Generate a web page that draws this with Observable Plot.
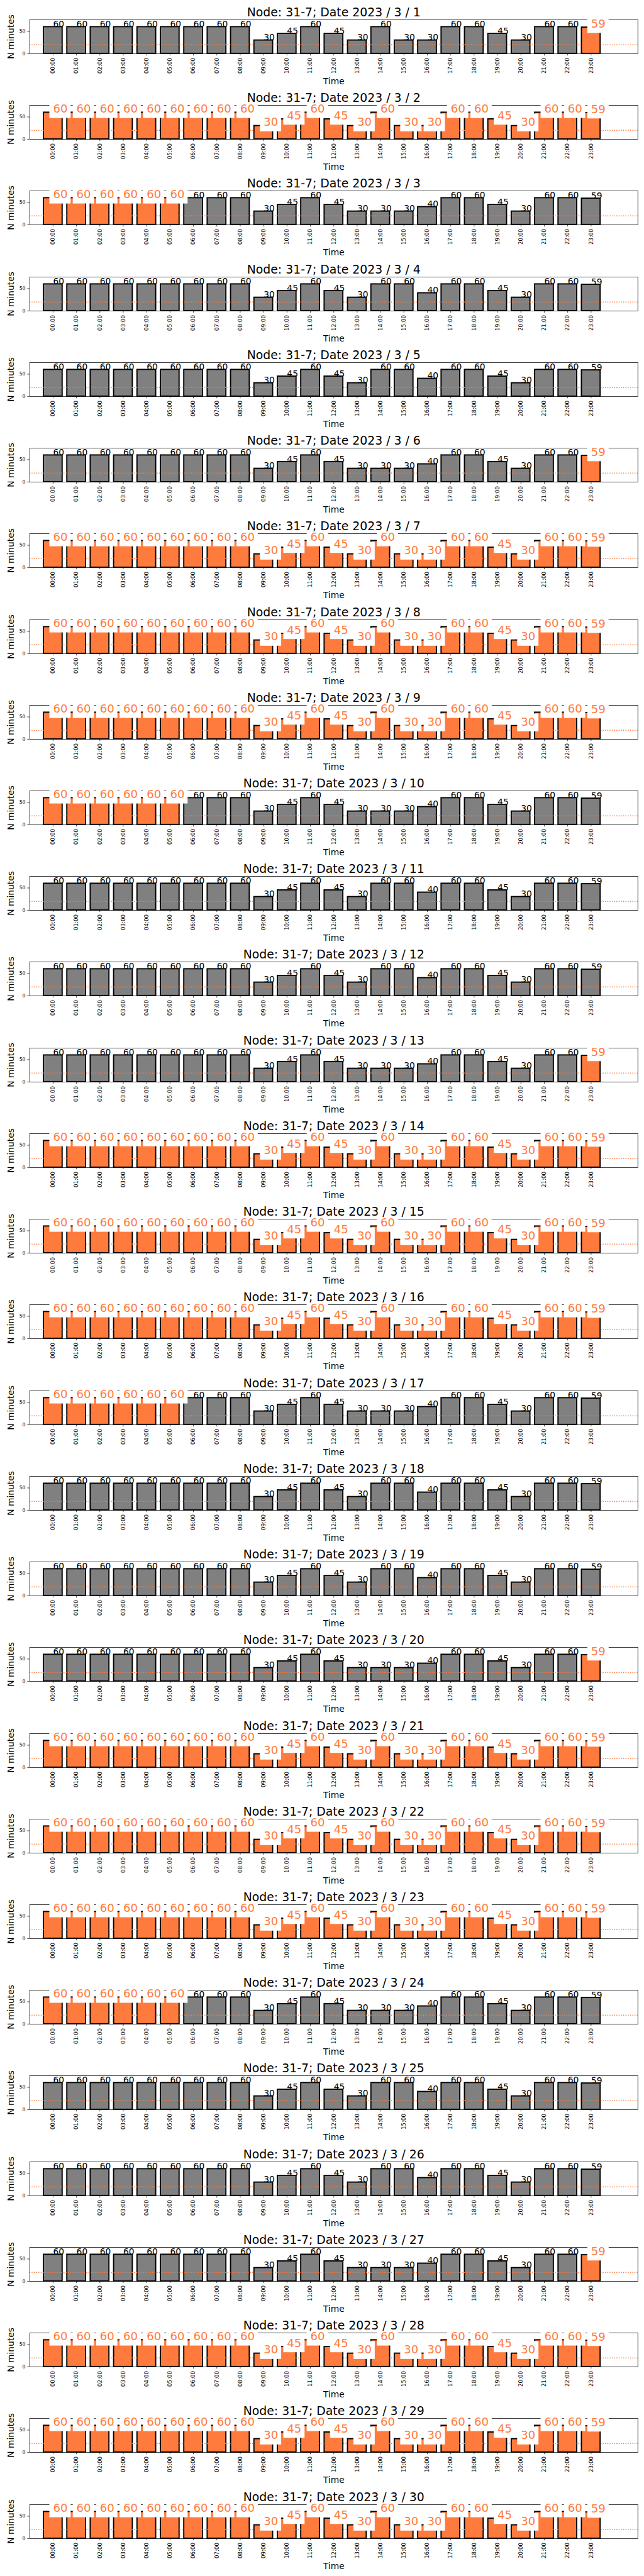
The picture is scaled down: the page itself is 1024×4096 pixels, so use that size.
<!DOCTYPE html>
<html>
<head>
<meta charset="utf-8">
<script src="https://cdn.jsdelivr.net/npm/d3@7"></script>
<script src="https://cdn.jsdelivr.net/npm/@observablehq/plot@0.6"></script>
<style>
  html, body { margin: 0; padding: 0; background: #fff; }
  #wrap { position: relative; width: 1024px; height: 4096px; background: #fff; }
  #wrap svg { position: absolute; left: 0; }
</style>
</head>
<body>
<div id="wrap"></div>
<script>
// ---------------- data ----------------
const node = "31-7";
const year = 2023, month = 3;
const days = d3.range(1, 31);

const hours = ["00:00","01:00","02:00","03:00","04:00","05:00","06:00","07:00","08:00","09:00","10:00","11:00",
               "12:00","13:00","14:00","15:00","16:00","17:00","18:00","19:00","20:00","21:00","22:00","23:00"];

// minutes per hour, 00:00–11:00 (same on every day)
const morningMinutes = [60, 60, 60, 60, 60, 60, 60, 60, 60, 30, 45, 60];
// minutes per hour, 12:00–23:00 (three day profiles)
const afternoonA = [45, 30, 60, 30, 30, 60, 60, 45, 30, 60, 60, 59];
const afternoonB = [45, 30, 30, 30, 40, 60, 60, 45, 30, 60, 60, 59];
const afternoonC = [45, 30, 60, 60, 40, 60, 60, 45, 30, 60, 60, 59];

const dayProfile = ["A","A","B","C","C","B","A","A","A","B","C","C","B","A","A","A",
                    "B","C","C","B","A","A","A","B","C","C","B","A","A","A"];
// which hours are highlighted (orange) per day
const dayHighlight = ["last","all","early","none","none","last","all","all","all","early","none","none",
                      "last","all","all","all","early","none","none","last","all","all","all","early",
                      "none","none","last","all","all","all"];
const highlightHours = {
  none: [],
  last: [23],
  early: [0, 1, 2, 3, 4, 5],
  all: d3.range(24)
};
const threshold = 20;

// ---------------- styling ----------------
const S = 1024 / 1500;
const ORANGE = "#ff7b3d";
const GRAY = "#808080";
const PANEL = 199.55 * S;
const AX_TOP = 45.3 * S;
const AX_H = 79 * S;
const AX_L = 68.4 * S;
const AX_R = 1485 * S;
const FS_BIG = 26.5 * S;   // highlighted labels
const FS_LAB = 20.3 * S;   // normal labels / axis titles
const PAD = 0.3 * FS_BIG;
const boxLeft = PAD, boxRight = 1.272 * FS_BIG + PAD;
const boxTop = 0.76 * FS_BIG + PAD, boxBottom = 0.208 * FS_BIG + PAD;

const profiles = {A: afternoonA, B: afternoonB, C: afternoonC};
const wrap = document.getElementById("wrap");

days.forEach((day, k) => {
  const values = morningMinutes.concat(profiles[dayProfile[k]]);
  const hi = new Set(highlightHours[dayHighlight[k]]);
  const data = hours.map((h, i) => ({i, h, v: values[i], hi: hi.has(i)}));
  const norm = data.filter(d => !d.hi);
  const high = data.filter(d => d.hi);
  const title = `Node: ${node}; Date ${year} / ${month} / ${day}`;

  const chart = Plot.plot({
    width: 1024,
    height: PANEL,
    marginTop: AX_TOP,
    marginBottom: PANEL - AX_TOP - AX_H,
    marginLeft: AX_L,
    marginRight: 1024 - AX_R,
    x: {type: "linear", domain: [-1, 25]},
    y: {type: "linear", domain: [0, 76.2]},
    style: {fontFamily: "DejaVu Sans", background: "white", overflow: "visible", color: "black"},
    marks: [
      Plot.rect(norm, {x1: d => d.i - 0.4, x2: d => d.i + 0.4, y1: 0, y2: "v", inset: 0,
        fill: GRAY, stroke: "black", strokeWidth: 2.78 * S}),
      Plot.rect(high, {x1: d => d.i - 0.4, x2: d => d.i + 0.4, y1: 0, y2: "v", inset: 0,
        fill: ORANGE, stroke: "black", strokeWidth: 2.78 * S}),
      Plot.ruleY([threshold], {stroke: ORANGE, strokeWidth: 2 * S,
        strokeDasharray: `${2 * S},${3.3 * S}`}),
      Plot.frame({stroke: "black", strokeWidth: 1.1 * S}),
      Plot.axisY({ticks: [0, 50], tickSize: 4.9 * S, tickPadding: 4.9 * S, fontSize: 11.4 * S,
        label: null, strokeWidth: 1.1 * S}),
      Plot.axisX({ticks: d3.range(24), tickFormat: i => hours[i], tickRotate: -90,
        tickSize: 4.9 * S, tickPadding: 4.9 * S, fontSize: 12.7 * S, label: null, strokeWidth: 1.1 * S}),
      Plot.text(norm, {x: "i", y: "v", text: d => String(d.v), textAnchor: "start",
        lineAnchor: "bottom", fontSize: FS_LAB, fill: "black"}),
      Plot.rect(high, {x1: "i", x2: "i", y1: "v", y2: "v", fill: "white",
        insetLeft: -boxLeft, insetRight: -boxRight, insetTop: -boxTop, insetBottom: -boxBottom}),
      Plot.text(high, {x: "i", y: "v", text: d => String(d.v), textAnchor: "start",
        lineAnchor: "bottom", fontSize: FS_BIG, fill: ORANGE}),
      Plot.text([title], {frameAnchor: "top", textAnchor: "middle", lineAnchor: "bottom", dy: -8.3 * S,
        fontSize: 27.6 * S, text: d => d, fill: "black"}),
      Plot.text(["N minutes"], {frameAnchor: "left", textAnchor: "middle", rotate: -90, lineAnchor: "bottom",
        dx: -(68.4 - 31.6) * S, fontSize: FS_LAB, text: d => d, fill: "black"}),
      Plot.text(["Time"], {frameAnchor: "bottom", textAnchor: "middle", lineAnchor: "bottom", dy: 71 * S,
        fontSize: FS_LAB, text: d => d, fill: "black"})
    ]
  });
  chart.style.top = (k * PANEL) + "px";
  wrap.appendChild(chart);
});
</script>
</body>
</html>
